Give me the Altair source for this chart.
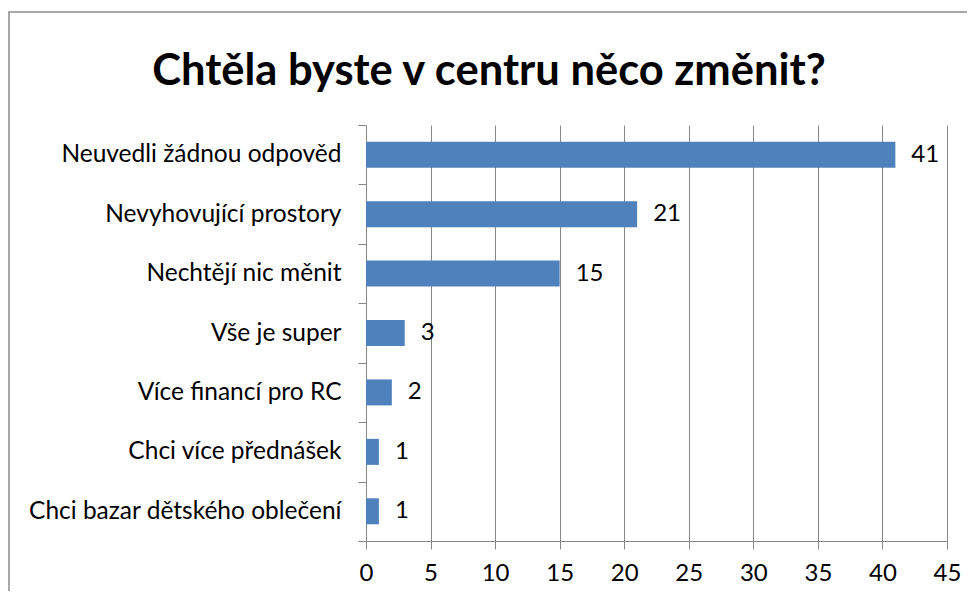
import altair as alt
import pandas as pd

categories = [
    "Neuvedli žádnou odpověd",
    "Nevyhovující prostory",
    "Nechtějí nic měnit",
    "Vše je super",
    "Více financí pro RC",
    "Chci více přednášek",
    "Chci bazar dětského oblečení",
]
values = [41, 21, 15, 3, 2, 1, 1]
x_ticks = [0, 5, 10, 15, 20, 25, 30, 35, 40, 45]
title_text = "Chtěla byste v centru něco změnit?"

df = pd.DataFrame({"cat": categories, "val": values})

FONT = "Lato"
GRID = "#868686"

y_enc = alt.Y("cat:N", sort=categories, title=None,
              scale=alt.Scale(paddingInner=0, paddingOuter=0),
              axis=alt.Axis(tickBand="extent", tickSize=8, labelPadding=17,
                            labelFontSize=24.5, labelFont=FONT, labelColor="#000000",
                            domainColor=GRID, tickColor=GRID, grid=False,
                            labelLimit=400))
x_enc = alt.X("val:Q", title=None,
              scale=alt.Scale(domain=[0, 45], nice=False),
              axis=alt.Axis(values=x_ticks, tickSize=8, labelPadding=12,
                            labelFontSize=24, labelFont=FONT, labelColor="#000000",
                            domainColor=GRID, tickColor=GRID, gridColor=GRID,
                            grid=True, gridOpacity=1, labelFlush=False))

bars = alt.Chart(df).mark_bar(color="#4F81BD", size=26).encode(x=x_enc, y=y_enc)
labels = alt.Chart(df).mark_text(align="left", baseline="middle", dx=16,
                                 fontSize=24, font=FONT, color="#000000").encode(
    x="val:Q", y=alt.Y("cat:N", sort=categories), text="val:Q")

one = pd.DataFrame({"t": [title_text]})
border = alt.Chart(one).mark_rect(
    fill=None, stroke="#8c8c8c", strokeWidth=1.5, clip=False).encode(
    x=alt.value(-357), x2=alt.value(700), y=alt.value(-113), y2=alt.value(520))
title = alt.Chart(one).mark_text(
    align="center", baseline="alphabetic", fontSize=43.5, font=FONT,
    fontWeight="bold", color="#000000").encode(
    x=alt.value(123), y=alt.value(-40), text="t:N")

chart = alt.layer(border, bars, labels, title).properties(
    width=581, height=416,
    autosize=alt.AutoSizeParams(type="none"),
    padding={"left": 358, "top": 117, "right": 20, "bottom": 50},
).configure_view(stroke=None)

chart.save("out.html", embed_options={"renderer": "svg", "actions": False})
